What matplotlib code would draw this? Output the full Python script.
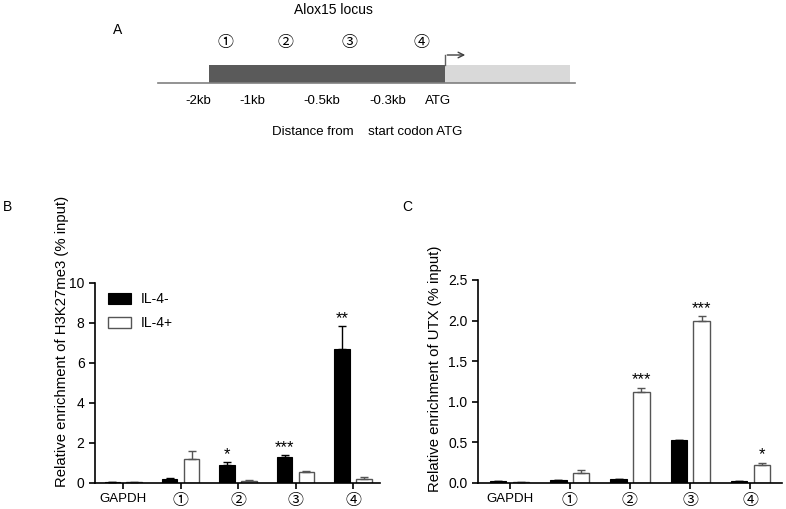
import numpy as np
import matplotlib
matplotlib.use("Agg")
import matplotlib.pyplot as plt

plt.rcParams['font.family'] = ['Liberation Sans', 'Noto Sans CJK SC', 'DejaVu Sans']

# ---------------------------------------------------------------------------
# data
# ---------------------------------------------------------------------------
categories = ['GAPDH', '①', '②', '③', '④']
groups = ['IL-4-', 'IL-4+']

# panel B: H3K27me3
h3_minus = [0.03, 0.20, 0.90, 1.30, 6.70]
h3_minus_err = [0.0, 0.03, 0.15, 0.10, 1.15]
h3_plus = [0.05, 1.18, 0.10, 0.55, 0.20]
h3_plus_err = [0.0, 0.42, 0.05, 0.05, 0.10]
h3_stars = ['', '', '*', '***', '**']          # above IL-4- bars

# panel C: UTX
utx_minus = [0.02, 0.035, 0.05, 0.53, 0.025]
utx_minus_err = [0.0, 0.0, 0.0, 0.0, 0.0]
utx_plus = [0.01, 0.12, 1.12, 1.99, 0.22]
utx_plus_err = [0.0, 0.035, 0.05, 0.06, 0.03]
utx_stars = ['', '', '***', '***', '*']        # above IL-4+ bars

# schematic labels
site_labels = ['①', '②', '③', '④']
dist_labels = ['-2kb', '-1kb', '-0.5kb', '-0.3kb', 'ATG']

fig = plt.figure(figsize=(7.86, 5.09), dpi=100)

# ---------------------------------------------------------------------------
# Panel A: locus schematic (pixel coordinates)
# ---------------------------------------------------------------------------
axa = fig.add_axes([0, 0, 1, 1], zorder=-1)
axa.set_xlim(0, 786)
axa.set_ylim(509, 0)
axa.axis('off')

axa.text(118, 30, 'A', fontsize=10, ha='center', va='center')
axa.text(333, 10, 'Alox15 locus', fontsize=10, ha='center', va='center')
for lab, x in zip(site_labels, [225, 285, 350, 422]):
    axa.text(x, 42, lab, fontsize=11.5, ha='center', va='center')
axa.plot([158, 575], [83, 83], color='#808080', lw=1.2)
axa.add_patch(plt.Rectangle((209, 65), 236, 18, color='#5a5a5a', lw=0))
axa.add_patch(plt.Rectangle((445, 65), 125, 18, color='#d9d9d9', lw=0))
axa.plot([445, 445], [65, 55], color='#606060', lw=1)
axa.annotate('', xy=(468, 55), xytext=(444.5, 55),
             arrowprops=dict(arrowstyle='->', color='#404040', lw=1))
for lab, x in zip(dist_labels, [198, 252, 322, 388, 438]):
    axa.text(x, 101, lab, fontsize=9.5, ha='center', va='center')
axa.text(367, 132, 'Distance from    start codon ATG', fontsize=9.5,
         ha='center', va='center')
axa.text(8, 207, 'B', fontsize=10, ha='center', va='center')
axa.text(407, 207, 'C', fontsize=10, ha='center', va='center')


# ---------------------------------------------------------------------------
# Panels B and C: bar charts
# ---------------------------------------------------------------------------
def bar_panel(ax, minus, minus_err, plus, plus_err, stars, star_on, ylim, yticks,
              yfmt, ylabel, offset_star):
    x = np.arange(len(categories))
    off, w = 0.19, 0.27
    ax.bar(x - off, minus, w, color='black', edgecolor='black', lw=0.8,
           yerr=[np.zeros(len(x)), minus_err], capsize=3,
           error_kw=dict(ecolor='black', elinewidth=1, capthick=1), label=groups[0])
    ax.bar(x + off, plus, w, color='white', edgecolor='#555555', lw=1,
           yerr=[np.zeros(len(x)), plus_err], capsize=3,
           error_kw=dict(ecolor='#555555', elinewidth=1, capthick=1), label=groups[1])
    for i, s in enumerate(stars):
        if not s:
            continue
        if star_on == 'minus':
            xs, top = i - off, minus[i] + minus_err[i]
        else:
            xs, top = i + off, plus[i] + plus_err[i]
        ax.text(xs, top + offset_star, s, ha='center', va='bottom', fontsize=12)
    ax.set_ylim(*ylim)
    ax.set_yticks(yticks)
    ax.set_yticklabels([yfmt.format(v) for v in yticks])
    ax.set_xticks(x)
    ax.set_xticklabels(categories)
    for lab in ax.get_xticklabels()[1:]:
        lab.set_fontsize(11.5)
    for sp in ['top', 'right']:
        ax.spines[sp].set_visible(False)
    for sp in ['left', 'bottom']:
        ax.spines[sp].set_linewidth(1.2)
    ax.tick_params(axis='both', width=1.2, length=4)
    ax.tick_params(axis='y', labelsize=10)
    ax.set_ylabel(ylabel, fontsize=10.7, loc='bottom')
    return ax


axb = fig.add_axes([0.1209, 0.0511, 0.3626, 0.393])
bar_panel(axb, h3_minus, h3_minus_err, h3_plus, h3_plus_err, h3_stars, 'minus',
          (0, 10), [0, 2, 4, 6, 8, 10], '{:g}',
          'Relative enrichment of H3K27me3 (% input)', 0.0)
axb.set_xlim(-0.49, 4.47)
for lab in axb.get_xticklabels()[:1]:
    lab.set_fontsize(9.5)
axb.yaxis.set_label_coords(-0.091, -0.02)
axb.legend(loc='upper left', bbox_to_anchor=(0.045, 0.955), frameon=False,
           fontsize=10, handlelength=1.65, handleheight=0.87, handletextpad=0.7,
           labelspacing=0.75, borderpad=0, borderaxespad=0)

axc = fig.add_axes([0.608, 0.0511, 0.387, 0.399])
bar_panel(axc, utx_minus, utx_minus_err, utx_plus, utx_plus_err, utx_stars, 'plus',
          (0, 2.5), [0, 0.5, 1.0, 1.5, 2.0, 2.5], '{:.1f}',
          'Relative enrichment of UTX (% input)', 0.01)
axc.set_xlim(-0.53, 4.53)
for lab in axc.get_xticklabels()[:1]:
    lab.set_fontsize(9.5)
axc.yaxis.set_label_coords(-0.118, -0.044)

fig.savefig('out.png', dpi=100)
